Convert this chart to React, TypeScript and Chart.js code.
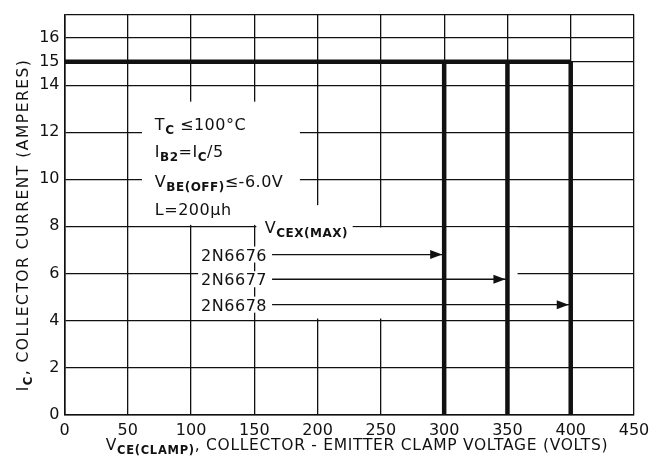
import React, { useEffect, useRef } from "react";
import { Chart, registerables } from "chart.js";

Chart.register(...registerables);

// ---- data ----
const xTickValues = [0, 50, 100, 150, 200, 250, 300, 350, 400, 450];
const yTickValues = [0, 2, 4, 6, 8, 10, 12, 14, 15, 16, 17];
const deviceNames = ["2N6676", "2N6677", "2N6678"];
const vcexMax = [300, 350, 400];
const icMax = 15;
const arrowLevels = [6.8, 5.75, 4.67];
const arrowStart = 164;

type Seg = { t: string; sub?: boolean };

const conditionLines: Seg[][] = [
  [{ t: "T" }, { t: "C", sub: true }, { t: " ≤100°C" }],
  [{ t: "I" }, { t: "B2", sub: true }, { t: "=I" }, { t: "C", sub: true }, { t: "/5" }],
  [{ t: "V" }, { t: "BE(OFF)", sub: true }, { t: "≤-6.0V" }],
  [{ t: "L=200µh" }],
];
const vcexLabel: Seg[] = [{ t: "V" }, { t: "CEX(MAX)", sub: true }];
const xTitle: Seg[] = [
  { t: "V" },
  { t: "CE(CLAMP)", sub: true },
  { t: ", COLLECTOR - EMITTER CLAMP VOLTAGE (VOLTS)" },
];
const yTitle: Seg[] = [{ t: "I" }, { t: "C", sub: true }, { t: ", COLLECTOR CURRENT (AMPERES)" }];

const FONT = '"DejaVu Sans", sans-serif';
const MAIN = `16px ${FONT}`;
const SUB = `bold 12px ${FONT}`;
const INK = "#111";

type Style = { main: string; sub: string; drop: number; spacing: number };
const ANNOT: Style = { main: MAIN, sub: SUB, drop: 4, spacing: 0.5 };

function setSpacing(ctx: any, px: number) {
  if ("letterSpacing" in ctx) ctx.letterSpacing = `${px}px`;
}

function richWidth(ctx: CanvasRenderingContext2D, segs: Seg[], st: Style) {
  let w = 0;
  setSpacing(ctx, st.spacing);
  for (const s of segs) {
    ctx.font = s.sub ? st.sub : st.main;
    w += ctx.measureText(s.t).width;
  }
  return w;
}

function drawRich(
  ctx: CanvasRenderingContext2D,
  segs: Seg[],
  x: number,
  y: number,
  align: "left" | "right" | "center",
  st: Style = ANNOT
) {
  const w = richWidth(ctx, segs, st);
  let cx = align === "right" ? x - w : align === "center" ? x - w / 2 : x;
  ctx.textAlign = "left";
  ctx.textBaseline = "alphabetic";
  ctx.fillStyle = INK;
  setSpacing(ctx, st.spacing);
  for (const s of segs) {
    ctx.font = s.sub ? st.sub : st.main;
    ctx.fillText(s.t, cx, s.sub ? y + st.drop : y);
    cx += ctx.measureText(s.t).width;
  }
  setSpacing(ctx, 0);
  return w;
}

// white areas where the original drawing interrupts the grid (data units)
const masks = [
  { x1: 61.2, x2: 186, y1: 8.06, y2: 13.3 },
  { x1: 151.6, x2: 227.7, y1: 7.55, y2: 8.9 },
  { x1: 151.6, x2: 358, y1: 4.08, y2: 7.95 },
];

const annotatePlugin = {
  id: "annotate",
  beforeDatasetsDraw(chart: any) {
    const { ctx, scales } = chart;
    const xs = scales.x;
    const ys = scales.y;
    ctx.save();
    ctx.fillStyle = "#fff";
    for (const m of masks) {
      const a = xs.getPixelForValue(m.x1);
      const b = xs.getPixelForValue(m.x2);
      const t = ys.getPixelForValue(m.y2);
      const btm = ys.getPixelForValue(m.y1);
      ctx.fillRect(a, t, b - a, btm - t);
    }
    const condBase = [12.11, 10.94, 9.69, 8.48];
    const cx = xs.getPixelForValue(71.4);
    conditionLines.forEach((segs, i) => {
      drawRich(ctx, segs, cx, ys.getPixelForValue(condBase[i]), "left");
    });
    drawRich(ctx, vcexLabel, xs.getPixelForValue(158.3), ys.getPixelForValue(7.72), "left");
    const rx = xs.getPixelForValue(160);
    deviceNames.forEach((name, i) => {
      const py = ys.getPixelForValue(arrowLevels[i]);
      const w = richWidth(ctx, [{ t: name }], ANNOT);
      setSpacing(ctx, 0);
      ctx.fillStyle = "#fff";
      ctx.fillRect(rx - w - 3, py - 8, w + 6, 16);
      drawRich(ctx, [{ t: name }], rx, py + 6, "right");
    });
    ctx.restore();
  },
  afterDatasetsDraw(chart: any) {
    const { ctx, scales } = chart;
    ctx.save();
    ctx.fillStyle = INK;
    vcexMax.forEach((v, i) => {
      const px = scales.x.getPixelForValue(v) - 2;
      const py = scales.y.getPixelForValue(arrowLevels[i]);
      ctx.beginPath();
      ctx.moveTo(px, py);
      ctx.lineTo(px - 12, py - 4.5);
      ctx.lineTo(px - 12, py + 4.5);
      ctx.closePath();
      ctx.fill();
    });
    ctx.restore();
  },
  afterDraw(chart: any) {
    const { ctx } = chart;
    ctx.save();
    const xt: Style = { main: `15.5px ${FONT}`, sub: `bold 11.5px ${FONT}`, drop: 4, spacing: 0.7 };
    drawRich(ctx, xTitle, 357, 450, "center", xt);
    const yt: Style = { main: `15.5px ${FONT}`, sub: `bold 11.5px ${FONT}`, drop: 4, spacing: 1.5 };
    ctx.translate(28, 225);
    ctx.rotate(-Math.PI / 2);
    drawRich(ctx, yTitle, 0, 0, "center", yt);
    ctx.restore();
  },
};

export default function App() {
  const ref = useRef<HTMLCanvasElement | null>(null);
  useEffect(() => {
    if (!ref.current) return;
    const thick = { borderColor: INK, borderWidth: 4.5, pointRadius: 0, showLine: true, fill: false };
    const datasets: any[] = [
      {
        ...thick,
        data: [
          { x: 0, y: icMax },
          { x: vcexMax[vcexMax.length - 1], y: icMax },
        ],
      },
      ...vcexMax.map((v) => ({
        ...thick,
        data: [
          { x: v, y: 0 },
          { x: v, y: icMax },
        ],
      })),
      ...vcexMax.map((v, i) => ({
        borderColor: INK,
        borderWidth: 1.3,
        pointRadius: 0,
        showLine: true,
        data: [
          { x: arrowStart, y: arrowLevels[i] },
          { x: v, y: arrowLevels[i] },
        ],
      })),
    ];
    const chart = new Chart(ref.current, {
      type: "scatter",
      data: { datasets },
      plugins: [annotatePlugin],
      options: {
        animation: false,
        responsive: false,
        devicePixelRatio: 1,
        layout: { padding: { left: 0, right: 35, top: 8, bottom: 0 } },
        plugins: { legend: { display: false }, tooltip: { enabled: false } },
        scales: {
          x: {
            type: "linear",
            min: 0,
            max: 450,
            afterBuildTicks: (s: any) => {
              s.ticks = xTickValues.map((v) => ({ value: v }));
            },
            afterFit: (s: any) => {
              s.height = 50.5;
            },
            ticks: { color: INK, font: { family: FONT, size: 16 }, padding: 7, maxRotation: 0 },
            grid: { color: INK, lineWidth: 1.3, drawTicks: false },
            border: { color: INK, width: 1.6 },
          },
          y: {
            type: "linear",
            min: 0,
            max: 17,
            afterBuildTicks: (s: any) => {
              s.ticks = yTickValues.map((v) => ({ value: v }));
            },
            afterFit: (s: any) => {
              s.width = 64.5;
            },
            ticks: {
              color: INK,
              font: { family: FONT, size: 16 },
              padding: 5,
              callback: (v: any) => (v === 17 ? "" : String(v)),
            },
            grid: { color: INK, lineWidth: 1.3, drawTicks: false },
            border: { color: INK, width: 1.6 },
          },
        },
      },
    });
    return () => chart.destroy();
  }, []);
  return (
    <div style={{ position: "fixed", left: 0, top: 0, width: 669, height: 465, background: "#fff" }}>
      <canvas ref={ref} width={669} height={465} style={{ width: 669, height: 465 }} />
    </div>
  );
}
